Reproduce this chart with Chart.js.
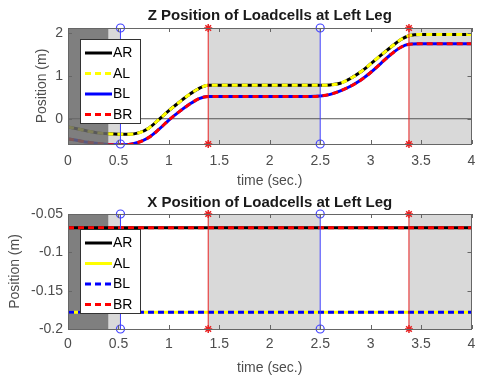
<!DOCTYPE html>
<html><head><meta charset="utf-8">
<script src="https://cdn.jsdelivr.net/npm/chart.js@4.4.1/dist/chart.umd.min.js"></script>
<style>
body{margin:0;background:#fff}
#wrap{position:relative;width:477px;height:378px}
canvas{position:absolute;left:0}
</style></head>
<body><div id="wrap">
<canvas id="c1" width="477" height="190" style="top:0"></canvas>
<canvas id="c2" width="477" height="188" style="top:190px"></canvas>
</div>
<script>
// ---------- data ----------
const seriesNames = ['AR','AL','BL','BR'];
const timeZ = [0,0.1,0.2,0.3,0.4,0.5,0.6,0.7,0.8,0.9,1.0,1.1,1.2,1.3,1.39,1.6,2.0,2.4,2.5,2.6,2.7,2.8,2.9,3.0,3.1,3.2,3.3,3.38,3.5,4.0];
const zAR = [-0.19,-0.24,-0.29,-0.33,-0.35,-0.36,-0.36,-0.33,-0.22,-0.02,0.19,0.38,0.56,0.71,0.78,0.78,0.78,0.78,0.78,0.79,0.83,0.94,1.09,1.28,1.48,1.67,1.85,1.94,1.97,1.97];
const zAL = [-0.19,-0.24,-0.29,-0.33,-0.35,-0.36,-0.36,-0.33,-0.22,-0.02,0.19,0.38,0.56,0.71,0.78,0.78,0.78,0.78,0.78,0.79,0.83,0.94,1.09,1.28,1.48,1.67,1.85,1.94,1.97,1.97];
const zBL = [-0.47,-0.51,-0.55,-0.58,-0.60,-0.61,-0.60,-0.55,-0.44,-0.25,-0.03,0.16,0.33,0.47,0.52,0.52,0.52,0.52,0.53,0.57,0.65,0.76,0.90,1.08,1.29,1.50,1.67,1.74,1.75,1.75];
const zBR = [-0.47,-0.51,-0.55,-0.58,-0.60,-0.61,-0.60,-0.55,-0.44,-0.25,-0.03,0.16,0.33,0.47,0.52,0.52,0.52,0.52,0.53,0.57,0.65,0.76,0.90,1.08,1.29,1.50,1.67,1.74,1.75,1.75];

const timeX = [0,1,2,3,4];
const xAR = [-0.068,-0.068,-0.068,-0.068,-0.068];
const xAL = [-0.178,-0.178,-0.178,-0.178,-0.178];
const xBL = [-0.178,-0.178,-0.178,-0.178,-0.178];
const xBR = [-0.068,-0.068,-0.068,-0.068,-0.068];

const xTicks = [0,0.5,1,1.5,2,2.5,3,3.5,4];
const zYTicks = [0,1,2];
const xYTicks = [-0.2,-0.15,-0.1,-0.05];
const zYRange = [-0.59, 2.12];
const xYRange = [-0.2, -0.05];
const xRange = [0, 4];

const darkPhase = [0, 0.4];
const lightPhases = [[0.4,0.52],[1.39,2.5],[3.38,4]];
const blueEvents = [0.52, 2.5];
const redEvents = [1.39, 3.38];

// ---------- helpers ----------
const FONT = '"Liberation Sans", Arial, Helvetica, sans-serif';
const pts = (t, v) => t.map((x,i)=>({x, y:v[i]}));

function seriesDS(label, t, v, color, dashed, order){
  return {label, data: pts(t,v), borderColor: color, borderWidth: 3,
    borderDash: dashed ? [6,4] : [], pointRadius: 0, cubicInterpolationMode: 'monotone',
    fill: false, order};
}
function eventDS(x, yr, color, style){
  return {label:'_ev', data:[{x,y:yr[0]},{x,y:yr[1]}], borderColor: color, borderWidth: 1,
    pointStyle: style, pointRadius: 4, pointBorderWidth: style==='star'?1.5:1.2,
    pointBackgroundColor: 'rgba(0,0,0,0)', pointBorderColor: color, clip: false, order: 0};
}

const bgPlugin = {
  id:'bg',
  beforeDatasetsDraw(chart, args, opts){
    const {ctx, chartArea:a, scales:{x}} = chart;
    ctx.save();
    ctx.fillStyle = '#d9d9d9';
    lightPhases.forEach(([s,e])=>{
      const p0=x.getPixelForValue(s), p1=x.getPixelForValue(e);
      ctx.fillRect(p0, a.top, p1-p0, a.bottom-a.top);
    });
    if(!opts.darkOver){
      ctx.fillStyle = '#7f7f7f';
      const p0=x.getPixelForValue(darkPhase[0]), p1=x.getPixelForValue(darkPhase[1]);
      ctx.fillRect(p0, a.top, p1-p0, a.bottom-a.top);
    }
    ctx.restore();
  },
  afterDatasetsDraw(chart, args, opts){
    const {ctx, chartArea:a, scales:{x,y}} = chart;
    ctx.save();
    if(opts.darkOver){
      ctx.fillStyle = 'rgba(104,104,104,0.85)';
      const p0=x.getPixelForValue(darkPhase[0]), p1=x.getPixelForValue(darkPhase[1]);
      ctx.fillRect(p0, a.top, p1-p0, a.bottom-a.top);
    }
    // border + inward ticks
    ctx.strokeStyle = '#666';
    ctx.lineWidth = 1;
    ctx.strokeRect(Math.round(a.left)+0.5, Math.round(a.top)+0.5, Math.round(a.right-a.left)-1, Math.round(a.bottom-a.top));
    ctx.beginPath();
    x.ticks.forEach(t=>{
      const p = Math.round(x.getPixelForValue(t.value))+0.5;
      ctx.moveTo(p, a.top); ctx.lineTo(p, a.top+4);
      ctx.moveTo(p, a.bottom); ctx.lineTo(p, a.bottom-4);
    });
    y.ticks.forEach(t=>{
      const p = Math.round(y.getPixelForValue(t.value))+0.5;
      ctx.moveTo(a.left, p); ctx.lineTo(a.left+4, p);
      ctx.moveTo(a.right, p); ctx.lineTo(a.right-4, p);
    });
    ctx.stroke();
    ctx.restore();
  },
  afterDraw(chart, args, opts){
    // legend box
    const {ctx} = chart;
    const bx=80.5, by=39.5, bw=60, bh=84;
    ctx.save();
    ctx.fillStyle='#fff'; ctx.fillRect(bx,by,bw,bh);
    ctx.strokeStyle='#333'; ctx.lineWidth=1; ctx.strokeRect(bx,by,bw,bh);
    const dss = chart.data.datasets.filter(d=>seriesNames.includes(d.label));
    seriesNames.forEach((n,i)=>{
      const d = dss.find(q=>q.label===n);
      const yy = by + 13.5 + i*20.5;
      ctx.beginPath();
      ctx.strokeStyle = d.borderColor; ctx.lineWidth = 3;
      ctx.setLineDash(d.borderDash||[]);
      ctx.moveTo(85, yy); ctx.lineTo(112, yy); ctx.stroke();
      ctx.setLineDash([]);
      ctx.fillStyle='#000'; ctx.font='14px '+FONT; ctx.textBaseline='middle'; ctx.textAlign='left';
      ctx.fillText(n, 113, yy+0.5);
    });
    ctx.restore();
  }
};

function makeChart(id, datasets, yRange, yTicks, cfg){
  return new Chart(document.getElementById(id), {
    type:'line',
    data:{datasets},
    plugins:[bgPlugin],
    options:{
      responsive:false, animation:false,
      layout:{padding:{left:0,right:4,top:0,bottom:0}},
      plugins:{
        legend:{display:false}, tooltip:{enabled:false},
        title:{display:true, text:cfg.title, fullSize:false, color:'#1a1a1a',
          font:{family:FONT, size:15, weight:'bold'}, padding:{top:cfg.tpt, bottom:cfg.tpb}},
        bg:{darkOver:cfg.darkOver}
      },
      scales:{
        x:{type:'linear', min:xRange[0], max:xRange[1],
          afterBuildTicks:s=>{s.ticks = xTicks.map(v=>({value:v}));},
          afterFit:s=>{s.height = cfg.xh; s.paddingLeft = 0; s.paddingRight = 0;},
          grid:{display:false, drawTicks:false}, border:{display:false},
          ticks:{color:'#4d4d4d', font:{family:FONT,size:14}, padding:cfg.xtp, maxRotation:0, autoSkip:false,
            callback:v=>String(v)},
          title:{display:true, text:'time (sec.)', color:'#4d4d4d', font:{family:FONT,size:14}, padding:{top:0,bottom:cfg.xtpb}}
        },
        y:{type:'linear', min:yRange[0], max:yRange[1],
          afterBuildTicks:s=>{s.ticks = yTicks.map(v=>({value:v}));},
          afterFit:s=>{s.width = 68; s.paddingTop = 0; s.paddingBottom = 0;},
          grid:{display:false, drawTicks:false}, border:{display:false},
          ticks:{color:'#4d4d4d', font:{family:FONT,size:14}, padding:5, autoSkip:false,
            callback:v=>String(Math.round(v*1000)/1000)},
          title:{display:true, text:'Position (m)', color:'#4d4d4d', font:{family:FONT,size:14}, padding:{top:cfg.ytp,bottom:0}}
        }
      }
    }
  });
}

// top chart (Z)
const zDatasets = [
  ...blueEvents.map(e=>eventDS(e, zYRange, '#4040ff', 'circle')),
  ...redEvents.map(e=>eventDS(e, zYRange, '#e82020', 'star')),
  seriesDS('BR', timeZ, zBR, '#ff0000', true, 1),
  seriesDS('BL', timeZ, zBL, '#0000ff', false, 2),
  seriesDS('AL', timeZ, zAL, '#ffff00', true, 3),
  seriesDS('AR', timeZ, zAR, '#000000', false, 4),
  {label:'_zero', data:[{x:xRange[0],y:0},{x:xRange[1],y:0}], borderColor:'#555', borderWidth:1, pointRadius:0, order:5}
];
makeChart('c1', zDatasets, zYRange, zYTicks,
  {title:'Z Position of Loadcells at Left Leg', tpt:7, tpb:3, xh:46, xtp:8.5, xtpb:0, ytp:33.6, darkOver:true});

// bottom chart (X)
const xDatasets = [
  ...blueEvents.map(e=>eventDS(e, xYRange, '#4040ff', 'circle')),
  ...redEvents.map(e=>eventDS(e, xYRange, '#e82020', 'star')),
  seriesDS('BR', timeX, xBR, '#ff0000', true, 1),
  seriesDS('BL', timeX, xBL, '#0000ff', true, 2),
  seriesDS('AL', timeX, xAL, '#ffff00', false, 3),
  seriesDS('AR', timeX, xAR, '#000000', false, 4)
];
makeChart('c2', xDatasets, xYRange, xYTicks,
  {title:'X Position of Loadcells at Left Leg', tpt:4, tpb:2, xh:49, xtp:6.5, xtpb:1.6, ytp:6.6, darkOver:false});
</script>
</body></html>
